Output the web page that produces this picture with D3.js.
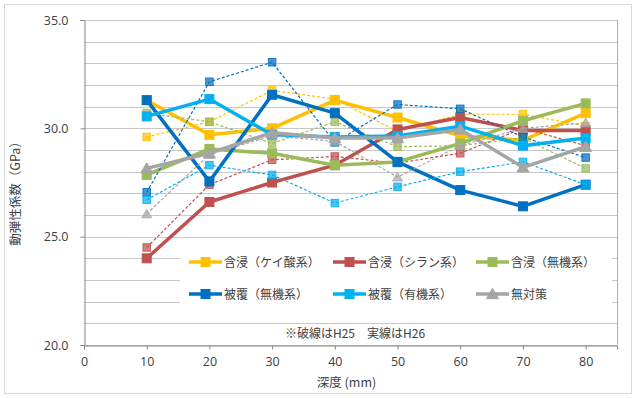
<!DOCTYPE html>
<html><head><meta charset="utf-8">
<script src="https://cdn.jsdelivr.net/npm/d3@7"></script>
<style>body{margin:0;background:#fff}svg{display:block}text{font-family:"Noto Sans CJK JP","Noto Sans",sans-serif;fill:#404040}</style>
</head><body><svg id="c" width="636" height="398"></svg>
<script>
const depths = [10,20,30,40,50,60,70,80];
const seriesNames = ["含浸（ケイ酸系）","含浸（シラン系）","含浸（無機系）","被覆（無機系）","被覆（有機系）","無対策"];
const seriesColors = ["#FFC000","#C0504D","#9BBB59","#0070C0","#00B0F0","#A5A5A5"];
const seriesShapes = ["square","square","square","square","square","triangle"];
// H26 (solid)
const keisanH26 = [31.3, 29.7, 30.0, 31.3, 30.5, 29.65, 29.45, 30.7];
const silaneH26 = [24.0, 26.6, 27.5, 28.3, 29.95, 30.5, 29.9, 29.9];
const mukiH26 = [27.85, 29.05, 28.85, 28.3, 28.45, 29.3, 30.35, 31.15];
const hifukuMukiH26 = [31.3, 27.55, 31.55, 30.7, 28.45, 27.15, 26.4, 27.4];
const hifukuYukiH26 = [30.55, 31.35, 29.7, 29.6, 29.65, 30.1, 29.2, 29.55];
const nashiH26 = [28.15, 28.85, 29.8, 29.55, 29.55, 29.95, 28.2, 29.15];
// H25 (dashed)
const keisanH25 = [29.6, 30.3, 31.75, 31.35, 29.85, 30.65, 30.65, 30.1];
const silaneH25 = [24.5, 27.4, 28.55, 28.7, 28.4, 28.85, 30.0, 29.2];
const mukiH25 = [30.7, 30.3, 29.3, 30.3, 29.15, 29.2, 29.55, 28.15];
const hifukuMukiH25 = [27.05, 32.15, 33.05, 29.35, 31.1, 30.9, 29.6, 28.65];
const hifukuYukiH25 = [26.7, 28.3, 27.85, 26.55, 27.3, 28.0, 28.45, 27.4];
const nashiH25 = [26.05, 28.8, 29.65, 29.4, 27.75, 29.2, 30.0, 30.25];
const xTicks = [0,10,20,30,40,50,60,70,80];
const yTicks = [20,25,30,35];
const yGrid = d3.range(20,36,1);
const xTitle = "深度 (mm)";
const yTitle = "動弾性係数（GPa）";
const note = "※破線はH25　実線はH26";

const h26 = [keisanH26, silaneH26, mukiH26, hifukuMukiH26, hifukuYukiH26, nashiH26];
const h25 = [keisanH25, silaneH25, mukiH25, hifukuMukiH25, hifukuYukiH25, nashiH25];

const svg = d3.select("#c");
const L=84, R=617, T=20, B=345;
const x = d3.scaleLinear().domain([0,85]).range([L,R]);
const y = d3.scaleLinear().domain([20,35]).range([B,T]);

svg.append("rect").attr("x",4.5).attr("y",4.5).attr("width",627).attr("height",389)
  .attr("fill","#fff").attr("stroke","#d9d9d9");

// grid
svg.append("g").selectAll("line").data(yGrid).join("line")
  .attr("x1",L).attr("x2",R).attr("y1",d=>Math.round(y(d))+0.5).attr("y2",d=>Math.round(y(d))+0.5)
  .attr("stroke","#c8c8c8").attr("stroke-width",1);
svg.append("line").attr("x1",R+0.5).attr("x2",R+0.5).attr("y1",T).attr("y2",B).attr("stroke","#b0b0b0");

// axes
const yAxis = d3.axisLeft(y).tickValues(yTicks).tickFormat(d3.format(".1f")).tickSize(4).tickPadding(12);
const gy = svg.append("g").attr("transform",`translate(${L+0.5},0)`).call(yAxis);
const xAxis = d3.axisBottom(x).tickValues(xTicks).tickSize(4).tickPadding(8);
const gx = svg.append("g").attr("transform",`translate(0,${B+0.5})`).call(xAxis);
[gx,gy].forEach(g=>{
  g.select(".domain").attr("stroke","#868686");
  g.selectAll(".tick line").attr("stroke","#868686");
  g.selectAll(".tick text").attr("fill","#404040").style("font-size","12.5px")
   .style("font-family","'Open Sans','Noto Sans',sans-serif");
});

svg.append("text").attr("x",(L+R)/2-4).attr("y",387).attr("text-anchor","middle")
  .style("font-size","12.5px").text(xTitle);
svg.append("text").attr("transform",`translate(20,${(T+B)/2+8}) rotate(-90)`).attr("text-anchor","middle")
  .style("font-size","12.5px").text(yTitle);

function marker(g, shape, cx, cy, size, color, dashed){
  if(shape==="triangle"){
    const s=size*1.15;
    g.append("path").attr("d",`M${cx},${cy-s*0.55}L${cx+s*0.58},${cy+s*0.45}L${cx-s*0.58},${cy+s*0.45}Z`)
      .attr("fill",color).attr("fill-opacity",dashed?0.7:1).attr("stroke",color).attr("stroke-opacity",dashed?0.8:1);
  } else {
    g.append("rect").attr("x",cx-size/2).attr("y",cy-size/2).attr("width",size).attr("height",size)
      .attr("fill",color).attr("fill-opacity",dashed?0.72:1).attr("stroke",color).attr("stroke-opacity",dashed?0.85:1).attr("stroke-width",1);
  }
}

const line = d3.line().x((d,i)=>x(depths[i])).y(d=>y(d));
const plot = svg.append("g");
seriesNames.forEach((n,k)=>{
  const c = seriesColors[k];
  // H25 dashed
  plot.append("path").attr("d",line(h25[k])).attr("fill","none").attr("stroke",c)
    .attr("stroke-width",1.2).attr("stroke-dasharray","3,2");
  const gm = plot.append("g");
  h25[k].forEach((v,i)=>marker(gm, seriesShapes[k], x(depths[i]), y(v), 7.5, c, true));
  // H26 solid
  plot.append("path").attr("d",line(h26[k])).attr("fill","none").attr("stroke",c)
    .attr("stroke-width",3.5).attr("stroke-linejoin","round");
  const gs = plot.append("g");
  h26[k].forEach((v,i)=>marker(gs, seriesShapes[k], x(depths[i]), y(v), 9, c, false));
});

// legend
const lg = svg.append("g");
lg.append("rect").attr("x",180).attr("y",243).attr("width",432).attr("height",71).attr("fill","#fff");
const colX=[189,333,476], rowY=[262,294];
seriesNames.forEach((n,k)=>{
  const cx = colX[k%3], cy = rowY[Math.floor(k/3)];
  lg.append("line").attr("x1",cx).attr("x2",cx+33).attr("y1",cy).attr("y2",cy)
    .attr("stroke",seriesColors[k]).attr("stroke-width",3.5);
  marker(lg, seriesShapes[k], cx+16.5, cy, 9, seriesColors[k], false);
  lg.append("text").attr("x",cx+35).attr("y",cy+4.5).style("font-size","12px").text(n);
});
svg.append("text").attr("x",355).attr("y",338).attr("text-anchor","middle").style("font-size","12px").text(note);
</script></body></html>
